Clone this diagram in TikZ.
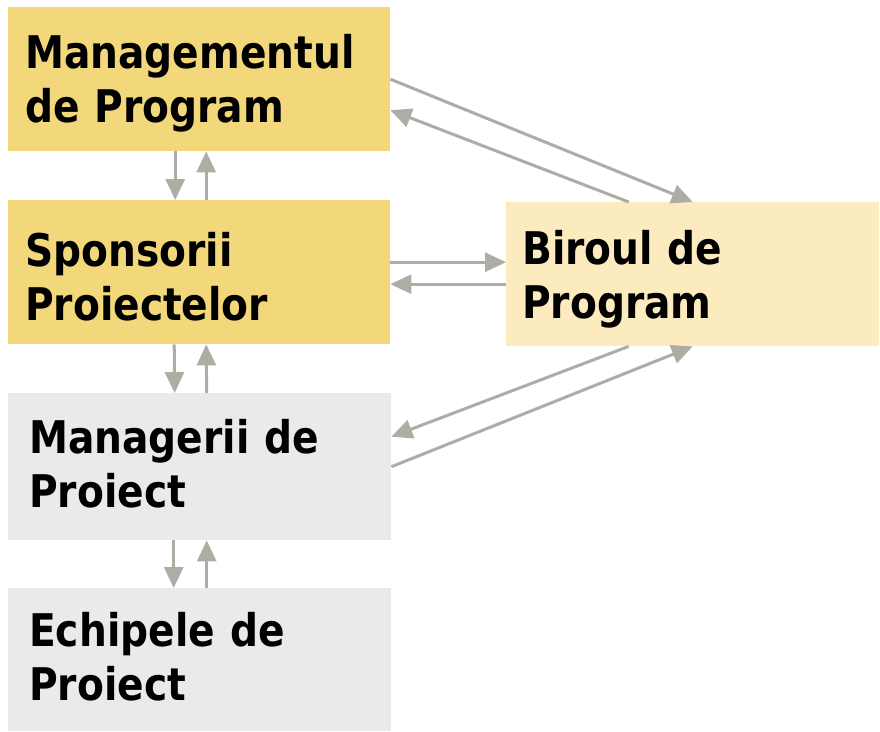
\documentclass[tikz,border=0pt]{standalone}
\usepackage{fontspec}
\setmainfont{DejaVu Sans}[FakeStretch=0.87]
\usepackage{tikz}
\usetikzlibrary{arrows.meta}
\definecolor{aur}{RGB}{242,215,123}
\definecolor{aurdeschis}{RGB}{253,235,192}
\definecolor{gri}{RGB}{234,234,234}
\definecolor{sageata}{RGB}{174,173,165}

\begin{document}
\begin{tikzpicture}[x=1pt, y=-1pt,
					box/.style={anchor=north west, minimum height=144pt, inner ysep=0pt, align=left,
						font=\fontsize{45}{54}\selectfont\bfseries},
					nivel/.style={box, fill=aur, text width=348pt, inner xsep=17pt, text height=43pt},
					echipa/.style={box, fill=gri, text width=341pt, inner xsep=21pt, text height=29pt},
					birou/.style={box, fill=aurdeschis, text width=341pt, inner xsep=16pt, text height=44pt},
					post/.style={-{Triangle[length=21pt, width=19pt]}, line width=3pt, draw=sageata}]
	\useasboundingbox (0,0) rectangle (880,731);
	\node[nivel] (program) at (8,7) {Managementul\\de Program};
	\node[nivel] (sponsori) at (8,200) {Sponsorii\\Proiectelor};
	\node[echipa, minimum height=147pt] (manageri) at (8,393) {Managerii de\\Proiect};
	\node[echipa, minimum height=143pt] (echipe) at (8,588) {Echipele de\\Proiect};
	\node[birou] (biroul) at (506,202) {Biroul de\\Program};

	\draw[post] ([xshift=-24pt]program.south) -- ([xshift=-24pt]sponsori.north);
	\draw[post] ([xshift=7pt]sponsori.north) -- ([xshift=7pt]program.south);
	\draw[post] ([xshift=-25pt]sponsori.south) -- ([xshift=-25pt]manageri.north);
	\draw[post] ([xshift=7pt]manageri.north) -- ([xshift=7pt]sponsori.south);
	\draw[post] ([xshift=-26pt]manageri.south) -- ([xshift=-26pt]echipe.north);
	\draw[post] ([xshift=7pt]echipe.north) -- ([xshift=7pt]manageri.south);

	\draw[post] ([yshift=10pt]sponsori.east) -- ([yshift=10pt]sponsori.east -| biroul.west);
	\draw[post] ([yshift=-12pt]sponsori.east -| biroul.west) -- ([yshift=-12pt]sponsori.east);

	\draw[post] (program.east) -- (biroul.north);
	\draw[post] ([xshift=-64pt]biroul.north) -- ([yshift=-31pt]program.east);
	\draw[post] ([xshift=-64pt]biroul.south) -- ([yshift=30pt]manageri.east);
	\draw[post] (manageri.east) -- (biroul.south);
\end{tikzpicture}
\end{document}
